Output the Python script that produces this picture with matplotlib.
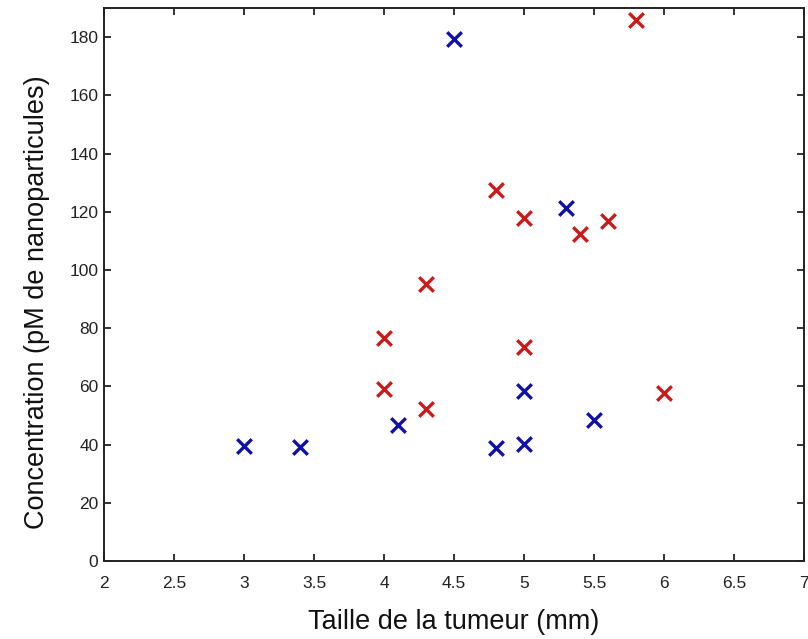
import matplotlib
matplotlib.use("Agg")
import matplotlib.pyplot as plt

blue_x = [3.0, 3.4, 4.1, 4.5, 4.8, 5.0, 5.0, 5.3, 5.5]
blue_y = [39.5, 39.2, 46.7, 179.3, 38.8, 40.2, 58.4, 121.3, 48.4]
red_x = [4.0, 4.0, 4.3, 4.3, 4.8, 5.0, 5.0, 5.4, 5.6, 5.8, 6.0]
red_y = [76.6, 59.1, 95.2, 52.2, 127.4, 117.8, 73.5, 112.3, 116.8, 185.8, 57.7]

xticks = [2, 2.5, 3, 3.5, 4, 4.5, 5, 5.5, 6, 6.5, 7]
xticklabels = ["2", "2.5", "3", "3.5", "4", "4.5", "5", "5.5", "6", "6.5", "7"]
yticks = list(range(0, 181, 20))

plt.rcParams['font.family'] = ['Liberation Sans', 'DejaVu Sans']

fig = plt.figure(figsize=(8.08, 6.39), dpi=100)
ax = fig.add_axes([104/808, 78/639, 700/808, 553/639])

ax.scatter(blue_x, blue_y, marker='x', s=110, linewidths=2.4, color='#1010a8', zorder=3)
ax.scatter(red_x, red_y, marker='x', s=110, linewidths=2.4, color='#cc1a1a', zorder=3)

ax.set_xlim(2, 7)
ax.set_ylim(0, 190)
ax.set_xticks(xticks)
ax.set_xticklabels(xticklabels)
ax.set_yticks(yticks)
ax.tick_params(direction='in', length=5, width=1.3, top=True, right=True,
               labelsize=12.5, colors='#222222')
ax.tick_params(axis='x', pad=11)
ax.tick_params(axis='y', pad=4)
for sp in ax.spines.values():
    sp.set_linewidth(1.4)
    sp.set_color('#222222')

ax.set_xlabel("Taille de la tumeur (mm)", fontsize=19.5, labelpad=13, color='#111111')
ax.set_ylabel("Concentration (pM de nanoparticules)", fontsize=19.5, labelpad=14,
              color='#111111', y=0.4675)

fig.savefig("out.png", dpi=100)
